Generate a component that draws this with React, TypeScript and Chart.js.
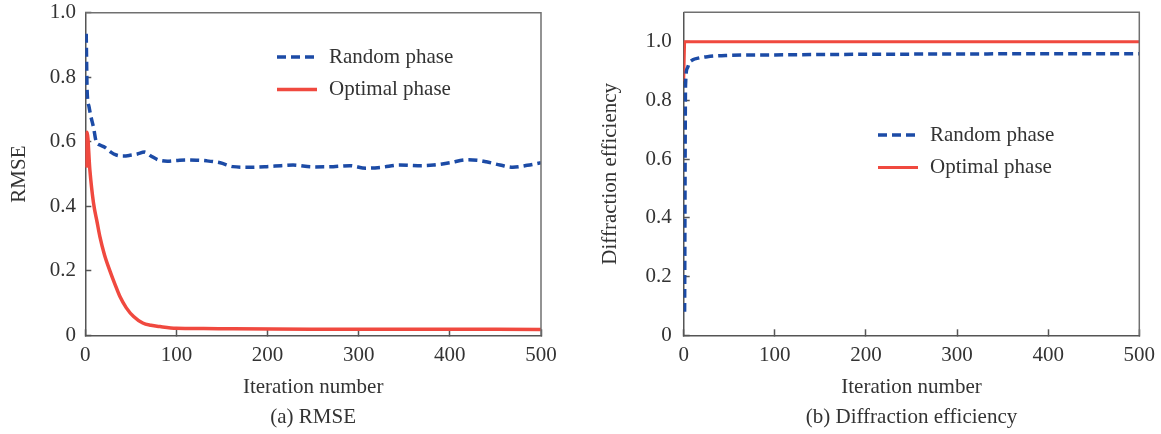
import React, { useEffect, useRef } from 'react';
import { Chart, registerables } from 'chart.js';

Chart.register(...registerables);

// ---------- data ----------
const rmseRandomIter = [1, 2, 4, 6, 9, 12, 16, 22, 28, 34, 42, 49, 57, 65, 72, 80, 90, 100, 111, 122, 133, 148, 162, 180, 199, 215, 228, 250, 272, 290, 308, 325, 345, 365, 382, 400, 418, 430, 440, 455, 469, 485, 500];
const rmseRandom = [0.935, 0.76, 0.71, 0.68, 0.645, 0.6, 0.59, 0.582, 0.568, 0.559, 0.556, 0.558, 0.562, 0.568, 0.556, 0.544, 0.54, 0.542, 0.544, 0.543, 0.541, 0.535, 0.523, 0.521, 0.523, 0.526, 0.528, 0.522, 0.523, 0.526, 0.518, 0.521, 0.528, 0.526, 0.528, 0.535, 0.544, 0.543, 0.538, 0.528, 0.521, 0.527, 0.535];

const rmseOptimalIter = [1, 2, 5, 9, 13, 16, 21, 27, 33, 38, 45, 53, 63, 72, 82, 100, 130, 162, 250, 350, 500];
const rmseOptimal = [0.52, 0.63, 0.513, 0.41, 0.35, 0.306, 0.25, 0.2, 0.155, 0.12, 0.085, 0.058, 0.038, 0.031, 0.027, 0.022, 0.021, 0.02, 0.019, 0.019, 0.018];

const deRandomIter = [1, 2, 4, 6, 10, 16, 26, 46, 100, 200, 300, 400, 500];
const deRandom = [0.08, 0.85, 0.91, 0.927, 0.938, 0.944, 0.949, 0.953, 0.955, 0.957, 0.958, 0.959, 0.959];

const deOptimalIter = [0, 1, 500];
const deOptimal = [0.865, 1.0, 1.0];

const seriesLabels = ['Random phase', 'Optimal phase'];
const xTitle = 'Iteration number';
const yTitleA = 'RMSE';
const yTitleB = 'Diffraction efficiency';
const captionA = '(a) RMSE';
const captionB = '(b) Diffraction efficiency';

// ---------- styles ----------
const FONT = "'Liberation Serif', 'Times New Roman', 'DejaVu Serif', serif";
const BLUE = '#1c4ba6';
const RED = '#f0493f';
const AXIS = '#555555';
const TEXT = '#333333';

const toPts = (xs: number[], ys: number[]) => xs.map((x, i) => ({ x, y: ys[i] }));

const framePlugin = {
  id: 'frame',
  afterDatasetsDraw(chart: any) {
    const { ctx, chartArea: a } = chart;
    ctx.save();
    ctx.strokeStyle = '#707070';
    ctx.lineWidth = 1.5;
    ctx.beginPath();
    ctx.moveTo(a.left, a.top);
    ctx.lineTo(a.right, a.top);
    ctx.lineTo(a.right, a.bottom);
    ctx.stroke();
    ctx.restore();
  },
};

const legendPlugin = {
  id: 'miniLegend',
  afterDraw(chart: any, _args: any, opts: any) {
    const { ctx } = chart;
    ctx.save();
    chart.data.datasets.forEach((ds: any, i: number) => {
      const y = opts.y + i * opts.gap;
      ctx.strokeStyle = ds.borderColor;
      ctx.lineWidth = ds.borderWidth;
      ctx.setLineDash(ds.borderDash || []);
      ctx.beginPath();
      ctx.moveTo(opts.x, y);
      ctx.lineTo(opts.x + opts.len, y);
      ctx.stroke();
      ctx.setLineDash([]);
      ctx.fillStyle = TEXT;
      ctx.font = `21px ${FONT}`;
      ctx.textAlign = 'left';
      ctx.textBaseline = 'middle';
      ctx.fillText(ds.label, opts.x + opts.len + opts.textGap, y);
    });
    ctx.restore();
  },
};

const captionPlugin = {
  id: 'caption',
  afterDraw(chart: any, _args: any, opts: any) {
    const { ctx, chartArea: a } = chart;
    ctx.save();
    ctx.fillStyle = TEXT;
    ctx.font = `21px ${FONT}`;
    ctx.textAlign = 'center';
    ctx.textBaseline = 'middle';
    ctx.fillText(opts.text, (a.left + a.right) / 2, opts.y);
    ctx.restore();
  },
};

function makeConfig(p: {
  datasets: any[];
  yMax: number;
  yTitle: string;
  caption: string;
  padRight: number;
  padTop: number;
  yWidth: number;
  yTitlePad: number;
  yTickPad: number;
  legend: { x: number; y: number };
}): any {
  const tickFont = { family: FONT, size: 21 };
  return {
    type: 'line',
    data: { datasets: p.datasets },
    options: {
      animation: false,
      responsive: false,
      devicePixelRatio: 1,
      layout: { padding: { left: 0, right: p.padRight, top: p.padTop, bottom: 0 } },
      plugins: {
        legend: { display: false },
        tooltip: { enabled: false },
        miniLegend: { x: p.legend.x, y: p.legend.y, gap: 32.5, len: 40, textGap: 12 },
        caption: { text: p.caption, y: 417 },
      },
      elements: { point: { radius: 0 } },
      scales: {
        x: {
          type: 'linear',
          min: 0,
          max: 500,
          ticks: { stepSize: 100, font: tickFont, color: TEXT, padding: 14, maxRotation: 0, callback: (v: number) => String(v) },
          grid: { drawOnChartArea: false, tickLength: -6, tickColor: AXIS, tickWidth: 1.5 },
          border: { color: AXIS, width: 1.5 },
          title: { display: true, text: xTitle, font: tickFont, color: TEXT, padding: { top: 0, bottom: 34 } },
          afterFit: (s: any) => {
            s.height = 98.7;
            s.paddingLeft = 0;
            s.paddingRight = 0;
          },
        },
        y: {
          type: 'linear',
          min: 0,
          max: p.yMax,
          ticks: {
            stepSize: 0.2,
            includeBounds: false,
            font: tickFont,
            color: TEXT,
            padding: p.yTickPad,
            callback: (v: number) => (v === 0 ? '0' : v.toFixed(1)),
          },
          grid: { drawOnChartArea: false, tickLength: -6, tickColor: AXIS, tickWidth: 1.5 },
          border: { color: AXIS, width: 1.5 },
          title: { display: true, text: p.yTitle, font: tickFont, color: TEXT, padding: { top: p.yTitlePad, bottom: 0 } },
          afterFit: (s: any) => {
            s.width = p.yWidth;
            s.paddingTop = 0;
            s.paddingBottom = 0;
          },
        },
      },
    },
    plugins: [framePlugin, legendPlugin, captionPlugin],
  };
}

function ChartBox(props: { config: any; left: number; width: number }) {
  const ref = useRef<HTMLCanvasElement | null>(null);
  useEffect(() => {
    if (!ref.current) return;
    const c = new Chart(ref.current, props.config);
    return () => c.destroy();
  }, []);
  return (
    <div style={{ position: 'absolute', left: props.left, top: 0, width: props.width, height: 434 }}>
      <canvas ref={ref} width={props.width} height={434} style={{ display: 'block', width: props.width, height: 434 }} />
    </div>
  );
}

export default function App() {
  const cfgA = makeConfig({
    datasets: [
      { label: seriesLabels[0], data: toPts(rmseRandomIter, rmseRandom), borderColor: BLUE, borderWidth: 3.5, borderDash: [9, 5], cubicInterpolationMode: 'monotone', fill: false },
      { label: seriesLabels[1], data: toPts(rmseOptimalIter, rmseOptimal), borderColor: RED, borderWidth: 3.5, cubicInterpolationMode: 'monotone', fill: false },
    ],
    yMax: 1.0,
    yTitle: yTitleA,
    caption: captionA,
    padRight: 39,
    padTop: 12.8,
    yWidth: 85.3,
    yTitlePad: 6.4,
    yTickPad: 15.3,
    legend: { x: 277, y: 57 },
  });
  const cfgB = makeConfig({
    datasets: [
      { label: seriesLabels[0], data: toPts(deRandomIter, deRandom), borderColor: BLUE, borderWidth: 3.5, borderDash: [9, 5], cubicInterpolationMode: 'monotone', fill: false },
      { label: seriesLabels[1], data: toPts(deOptimalIter, deOptimal), borderColor: RED, borderWidth: 3, tension: 0, fill: false },
    ],
    yMax: 1.1,
    yTitle: yTitleB,
    caption: captionB,
    padRight: 21.7,
    padTop: 12.3,
    yWidth: 103.7,
    yTitlePad: 18,
    yTickPad: 18,
    legend: { x: 878 - 580, y: 135 },
  });
  return (
    <div style={{ position: 'absolute', left: 0, top: 0, width: 1161, height: 434, background: '#fff' }}>
      <ChartBox config={cfgA} left={0} width={580} />
      <ChartBox config={cfgB} left={580} width={581} />
    </div>
  );
}
